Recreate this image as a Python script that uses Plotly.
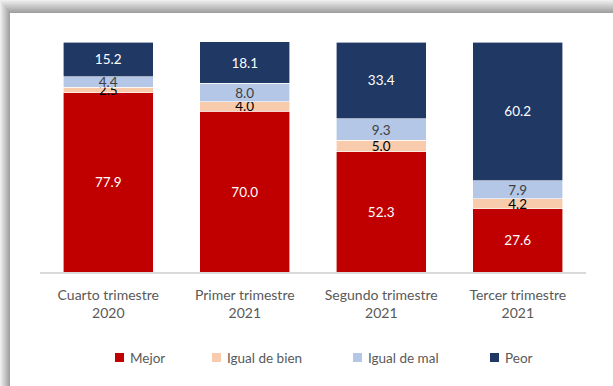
import plotly.graph_objects as go

# Survey shares (%) by quarter
quarters = ["Cuarto trimestre<br>2020", "Primer trimestre<br>2021",
            "Segundo trimestre<br>2021", "Tercer trimestre<br>2021"]
mejor = [77.9, 70.0, 52.3, 27.6]
igual_bien = [2.5, 4.0, 5.0, 4.2]
igual_mal = [4.4, 8.0, 9.3, 7.9]
peor = [15.2, 18.1, 33.4, 60.2]

series_names = ["Mejor", "Igual de bien", "Igual de mal", "Peor"]
series_values = [mejor, igual_bien, igual_mal, peor]
series_colors = ["#C00000", "#F8CBAD", "#B4C7E7", "#1F3864"]
label_colors = ["#FFFFFF", "#000000", "#404040", "#FFFFFF"]

W, H = 613, 386
L, R, T, B = 40, 27, 42, 114
FONT = "Lato"

def px_x(x):
    return (x - L) / (W - L - R)

def px_y(y):
    return (H - B - y) / (H - T - B)

fig = go.Figure()
for name, vals, col, tcol in zip(series_names, series_values, series_colors, label_colors):
    fig.add_trace(go.Bar(
        x=quarters, y=vals, name=name,
        marker=dict(color=col, line=dict(color="white", width=0.6)),
        text=[f"{v:.1f}" for v in vals],
        textposition="inside", insidetextanchor="middle",
        constraintext="none",
        textfont=dict(family=FONT, size=13.5, color=tcol),
        showlegend=False, hoverinfo="skip",
    ))

shapes = []
# framed panel with a soft shadow along the top and left edges
steps = 10
for i in range(steps):
    g = int(238 - (238 - 160) * i / (steps - 1))
    shapes.append(dict(
        type="rect", xref="paper", yref="paper", layer="below",
        x0=px_x(i * 1.0), x1=px_x(W + 20),
        y0=px_y(H + 20), y1=px_y(i * 1.3),
        fillcolor=f"rgb({g},{g},{g})", line=dict(width=0),
    ))
shapes.append(dict(
    type="rect", xref="paper", yref="paper", layer="below",
    x0=px_x(10), x1=px_x(W + 20), y0=px_y(H + 20), y1=px_y(13),
    fillcolor="white", line=dict(width=0),
))

# legend row
legend_x = [115, 212, 353, 490]
annotations = []
for name, col, lx in zip(series_names, series_colors, legend_x):
    shapes.append(dict(
        type="rect", xref="paper", yref="paper",
        x0=px_x(lx), x1=px_x(lx + 9), y0=px_y(362), y1=px_y(353),
        fillcolor=col, line=dict(width=0),
    ))
    annotations.append(dict(
        xref="paper", yref="paper", x=px_x(lx + 13), y=px_y(357.5),
        text=name, showarrow=False, xanchor="left", yanchor="middle",
        font=dict(family=FONT, size=13.5, color="#595959"),
    ))

fig.update_layout(
    width=W, height=H,
    margin=dict(l=L, r=R, t=T, b=B),
    barmode="stack", bargap=0.34,
    paper_bgcolor="white", plot_bgcolor="rgba(0,0,0,0)",
    shapes=shapes, annotations=annotations,
    xaxis=dict(showline=True, linecolor="#D9D9D9", linewidth=1.5,
               showgrid=False, ticks="", fixedrange=True,
               ticklabelstandoff=9,
               tickfont=dict(family=FONT, size=14, color="#595959")),
    yaxis=dict(range=[0, 100], visible=False, showgrid=False, fixedrange=True),
    showlegend=False,
)

fig.write_html("out.html")
